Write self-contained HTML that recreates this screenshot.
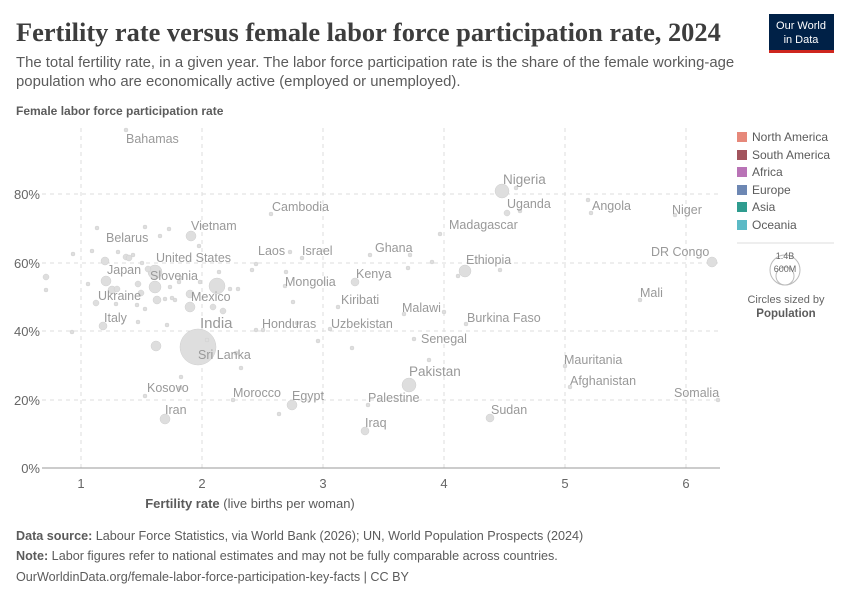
<!DOCTYPE html>
<html><head><meta charset="utf-8"><style>
body{margin:0;width:850px;height:600px;background:#fff;font-family:"Liberation Sans",sans-serif;overflow:hidden}
</style></head><body>
<svg width="850" height="600" xmlns="http://www.w3.org/2000/svg" font-family="Liberation Sans, sans-serif">
<text x="16" y="41" font-family="Liberation Serif, serif" font-size="26.4" font-weight="bold" fill="#3d3d3d">Fertility rate versus female labor force participation rate, 2024</text>
<text x="16" y="67" font-size="14.9" fill="#5b5b5b">The total fertility rate, in a given year. The labor force participation rate is the share of the female working-age</text>
<text x="16" y="86" font-size="14.9" fill="#5b5b5b">population who are economically active (employed or unemployed).</text>
<rect x="769" y="14" width="65" height="37" fill="#002147"/>
<rect x="769" y="50" width="65" height="3" fill="#ce261e"/>
<text x="801" y="29" font-size="11" fill="#fff" text-anchor="middle">Our World</text>
<text x="801" y="43" font-size="11" fill="#fff" text-anchor="middle">in Data</text>
<text x="16" y="115" font-size="12" font-weight="bold" fill="#5b5b5b">Female labor force participation rate</text>
<g stroke="#ddd" stroke-dasharray="4,4" stroke-width="1">
<line x1="42" y1="194" x2="720" y2="194"/><line x1="42" y1="263" x2="720" y2="263"/><line x1="42" y1="331" x2="720" y2="331"/><line x1="42" y1="400" x2="720" y2="400"/>
<line x1="81" y1="128" x2="81" y2="468"/><line x1="202" y1="128" x2="202" y2="468"/><line x1="323" y1="128" x2="323" y2="468"/><line x1="444" y1="128" x2="444" y2="468"/><line x1="565" y1="128" x2="565" y2="468"/><line x1="686" y1="128" x2="686" y2="468"/>
</g>
<line x1="42" y1="468" x2="720" y2="468" stroke="#999"/>
<g font-size="13" fill="#666" text-anchor="end">
<text x="40" y="199">80%</text><text x="40" y="268">60%</text><text x="40" y="336">40%</text><text x="40" y="405">20%</text><text x="40" y="473">0%</text>
</g>
<g font-size="13" fill="#666" text-anchor="middle">
<text x="81" y="488">1</text><text x="202" y="488">2</text><text x="323" y="488">3</text><text x="444" y="488">4</text><text x="565" y="488">5</text><text x="686" y="488">6</text>
</g>
<text x="250" y="508" font-size="13" fill="#5b5b5b" text-anchor="middle"><tspan font-weight="bold">Fertility rate</tspan> (live births per woman)</text>
<g fill="#ddd" stroke="#ccc" stroke-width="0.5" opacity="0.95">
<circle cx="198" cy="347" r="18"/>
<circle cx="502" cy="191" r="7"/><circle cx="409" cy="385" r="7"/><circle cx="155" cy="272" r="7"/>
<circle cx="217" cy="286" r="8"/><circle cx="155" cy="287" r="6"/><circle cx="190" cy="307" r="5"/>
<circle cx="465" cy="271" r="6"/><circle cx="712" cy="262" r="5"/><circle cx="292" cy="405" r="5"/>
<circle cx="165" cy="419" r="5"/><circle cx="191" cy="236" r="5"/><circle cx="106" cy="281" r="5"/>
<circle cx="156" cy="346" r="5"/><circle cx="105" cy="261" r="4"/><circle cx="103" cy="326" r="4"/>
<circle cx="190" cy="294" r="4"/><circle cx="355" cy="282" r="4"/><circle cx="490" cy="418" r="4"/><circle cx="365" cy="431" r="4"/>
<circle cx="507" cy="213" r="3"/><circle cx="271" cy="214" r="2"/><circle cx="440" cy="234" r="2"/><circle cx="126" cy="130" r="2"/>
<circle cx="46" cy="277" r="3"/><circle cx="46" cy="290" r="2"/><circle cx="72" cy="332" r="2"/>
<circle cx="97" cy="228" r="2"/><circle cx="145" cy="227" r="2"/><circle cx="169" cy="229" r="2"/><circle cx="160" cy="236" r="2"/>
<circle cx="73" cy="254" r="2"/><circle cx="92" cy="251" r="2"/><circle cx="118" cy="252" r="2"/><circle cx="126" cy="257" r="3"/>
<circle cx="129" cy="258" r="3"/><circle cx="133" cy="255" r="2"/><circle cx="142" cy="263" r="2"/><circle cx="148" cy="269" r="3"/>
<circle cx="88" cy="284" r="2"/><circle cx="112" cy="290" r="4"/><circle cx="117" cy="289" r="3"/><circle cx="138" cy="284" r="3"/>
<circle cx="141" cy="293" r="3"/><circle cx="157" cy="300" r="4"/><circle cx="170" cy="287" r="2"/><circle cx="179" cy="282" r="2"/>
<circle cx="181" cy="278" r="2"/><circle cx="165" cy="299" r="2"/><circle cx="172" cy="298" r="2"/><circle cx="175" cy="300" r="2"/>
<circle cx="199" cy="246" r="2"/><circle cx="200" cy="282" r="2"/><circle cx="213" cy="307" r="3"/><circle cx="223" cy="311" r="3"/>
<circle cx="230" cy="289" r="2"/><circle cx="238" cy="289" r="2"/><circle cx="219" cy="272" r="2"/><circle cx="137" cy="305" r="2"/>
<circle cx="145" cy="309" r="2"/><circle cx="167" cy="325" r="2"/><circle cx="138" cy="322" r="2"/><circle cx="96" cy="303" r="3"/>
<circle cx="116" cy="304" r="2"/><circle cx="207" cy="340" r="2"/><circle cx="236" cy="353" r="2"/><circle cx="241" cy="368" r="2"/>
<circle cx="181" cy="377" r="2"/><circle cx="256" cy="264" r="2"/><circle cx="252" cy="270" r="2"/><circle cx="290" cy="252" r="2"/>
<circle cx="302" cy="258" r="2"/><circle cx="286" cy="272" r="2"/><circle cx="285" cy="286" r="2"/><circle cx="293" cy="302" r="2"/>
<circle cx="256" cy="330" r="2"/><circle cx="263" cy="330" r="2"/><circle cx="297" cy="323" r="2"/><circle cx="318" cy="341" r="2"/>
<circle cx="330" cy="329" r="2"/><circle cx="352" cy="348" r="2"/><circle cx="338" cy="307" r="2"/><circle cx="370" cy="255" r="2"/>
<circle cx="408" cy="268" r="2"/><circle cx="410" cy="255" r="2"/><circle cx="432" cy="262" r="2"/><circle cx="458" cy="276" r="2"/>
<circle cx="500" cy="270" r="2"/><circle cx="404" cy="314" r="2"/><circle cx="444" cy="312" r="2"/><circle cx="466" cy="324" r="2"/>
<circle cx="414" cy="339" r="2"/><circle cx="429" cy="360" r="2"/><circle cx="368" cy="405" r="2"/><circle cx="279" cy="414" r="2"/>
<circle cx="233" cy="400" r="2"/><circle cx="516" cy="188" r="2"/><circle cx="520" cy="211" r="2"/><circle cx="588" cy="200" r="2"/>
<circle cx="591" cy="213" r="2"/><circle cx="675" cy="215" r="2"/><circle cx="640" cy="300" r="2"/><circle cx="565" cy="366" r="2"/>
<circle cx="570" cy="387" r="2"/><circle cx="718" cy="400" r="2"/><circle cx="180" cy="388" r="2"/><circle cx="145" cy="396" r="2"/>
</g>
<g font-size="12.5" fill="#999">
<text x="126" y="143">Bahamas</text><text x="272" y="211">Cambodia</text><text x="191" y="230">Vietnam</text>
<text x="106" y="242">Belarus</text><text x="156" y="262">United States</text><text x="258" y="255">Laos</text>
<text x="302" y="255">Israel</text><text x="107" y="274">Japan</text><text x="150" y="280">Slovenia</text>
<text x="285" y="286">Mongolia</text><text x="98" y="300">Ukraine</text><text x="191" y="301">Mexico</text>
<text x="104" y="322">Italy</text><text x="262" y="328">Honduras</text><text x="198" y="359">Sri Lanka</text>
<text x="147" y="392">Kosovo</text><text x="233" y="397">Morocco</text><text x="292" y="400">Egypt</text>
<text x="165" y="414">Iran</text><text x="368" y="402">Palestine</text><text x="365" y="427">Iraq</text>
<text x="341" y="304">Kiribati</text><text x="331" y="328">Uzbekistan</text><text x="356" y="278">Kenya</text>
<text x="375" y="252">Ghana</text><text x="449" y="229">Madagascar</text><text x="466" y="264">Ethiopia</text>
<text x="402" y="312">Malawi</text><text x="467" y="322">Burkina Faso</text><text x="421" y="343">Senegal</text>
<text x="491" y="414">Sudan</text><text x="564" y="364">Mauritania</text><text x="570" y="385">Afghanistan</text>
<text x="674" y="397">Somalia</text><text x="640" y="297">Mali</text><text x="651" y="256">DR Congo</text>
<text x="672" y="214">Niger</text><text x="592" y="210">Angola</text><text x="507" y="208">Uganda</text>
</g>
<text x="200" y="328" font-size="15" fill="#999">India</text>
<text x="503" y="184" font-size="13.5" fill="#999">Nigeria</text>
<text x="409" y="376" font-size="13.5" fill="#999">Pakistan</text>
<g font-size="12" fill="#5b5b5b">
<rect x="737" y="132" width="10" height="10" fill="#e6887a"/><text x="752" y="141">North America</text>
<rect x="737" y="150" width="10" height="10" fill="#a2545d"/><text x="752" y="159">South America</text>
<rect x="737" y="167" width="10" height="10" fill="#b973b6"/><text x="752" y="176">Africa</text>
<rect x="737" y="185" width="10" height="10" fill="#6d87b3"/><text x="752" y="194">Europe</text>
<rect x="737" y="202" width="10" height="10" fill="#2f9c8f"/><text x="752" y="211">Asia</text>
<rect x="737" y="220" width="10" height="10" fill="#5cbac6"/><text x="752" y="229">Oceania</text>
</g>
<line x1="737" y1="243" x2="834" y2="243" stroke="#ddd"/>
<circle cx="785" cy="270" r="15" fill="none" stroke="#bbb"/>
<circle cx="785" cy="276" r="9" fill="none" stroke="#bbb"/>
<text x="785" y="259" font-size="9" fill="#666" text-anchor="middle">1.4B</text>
<text x="785" y="272" font-size="9" fill="#666" text-anchor="middle">600M</text>
<text x="786" y="303" font-size="11" fill="#666" text-anchor="middle">Circles sized by</text>
<text x="786" y="317" font-size="11.5" font-weight="bold" fill="#5b5b5b" text-anchor="middle">Population</text>
<g font-size="12.6" fill="#5b5b5b">
<text x="16" y="540"><tspan font-weight="bold">Data source:</tspan> Labour Force Statistics, via World Bank (2026); UN, World Population Prospects (2024)</text>
<text x="16" y="560"><tspan font-weight="bold">Note:</tspan> Labor figures refer to national estimates and may not be fully comparable across countries.</text>
<text x="16" y="581">OurWorldinData.org/female-labor-force-participation-key-facts | CC BY</text>
</g>
</svg>
</body></html>
